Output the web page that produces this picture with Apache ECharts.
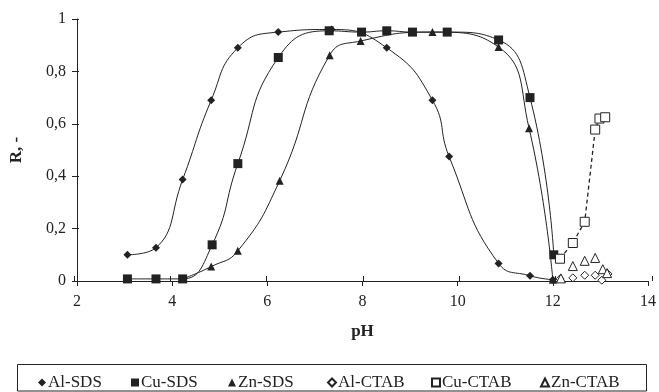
<!DOCTYPE html>
<html><head><meta charset="utf-8">
<script src="https://cdn.jsdelivr.net/npm/echarts@6/dist/echarts.min.js"></script>
<style>html,body{margin:0;padding:0;background:#fff}#c{width:659px;height:392px}</style>
</head><body><div id="c"></div>
<script>
var xTicks = [2, 4, 6, 8, 10, 12, 14];
var yTicks = [0, 0.2, 0.4, 0.6, 0.8, 1];

var alSdsPH = [3.06, 3.66, 4.22, 4.82, 5.38, 6.23, 7.35, 8.51, 9.47, 9.82, 10.86, 11.52, 12.0];
var alSdsR  = [0.10, 0.127, 0.387, 0.69, 0.89, 0.95, 0.96, 0.89, 0.69, 0.475, 0.067, 0.02, 0.005];

var cuSdsPH = [3.06, 3.66, 4.22, 4.84, 5.38, 6.23, 7.3, 7.98, 8.51, 9.05, 9.78, 10.86, 11.52, 12.02];
var cuSdsR  = [0.008, 0.008, 0.008, 0.138, 0.448, 0.853, 0.955, 0.95, 0.955, 0.95, 0.95, 0.92, 0.70, 0.10];

var znSdsPH = [4.22, 4.82, 5.38, 6.26, 7.31, 7.96, 9.47, 10.86, 11.5, 12.0];
var znSdsR  = [0.008, 0.055, 0.115, 0.383, 0.862, 0.916, 0.95, 0.893, 0.583, 0.005];

var alCtabPH = [12.15, 12.42, 12.67, 12.89, 13.03, 13.16];
var alCtabR  = [0.008, 0.012, 0.022, 0.022, 0.003, 0.027];

var cuCtabPH = [12.15, 12.42, 12.67, 12.89, 12.98, 13.1];
var cuCtabR  = [0.085, 0.145, 0.226, 0.578, 0.62, 0.625];

var znCtabPH = [12.17, 12.42, 12.67, 12.89, 13.05, 13.14];
var znCtabR  = [0.01, 0.057, 0.077, 0.088, 0.045, 0.03];

var names = ['Al-SDS', 'Cu-SDS', 'Zn-SDS', 'Al-CTAB', 'Cu-CTAB', 'Zn-CTAB'];
var icons = ['diamond', 'rect', 'triangle', 'diamond', 'rect', 'triangle'];

function pairs(xs, ys) { return xs.map(function (x, i) { return [x, ys[i]]; }); }

var FONT = 'Liberation Serif';
var BLACK = '#222';

function sdsSeries(name, xs, ys, symbol, size) {
  return {
    name: name, type: 'line', data: pairs(xs, ys), smooth: 0.5,
    symbol: symbol, symbolSize: size,
    lineStyle: { color: BLACK, width: 1 },
    itemStyle: { color: BLACK, borderColor: BLACK, borderWidth: 0 },
    z: 3
  };
}
function ctabSeries(name, xs, ys, symbol, size, dashed) {
  return {
    name: name, type: 'line', data: pairs(xs, ys), smooth: false,
    symbol: symbol, symbolSize: size,
    lineStyle: dashed ? { color: BLACK, width: 1.3, type: [4, 3] } : { opacity: 0, width: 0 },
    itemStyle: { color: '#fff', borderColor: BLACK, borderWidth: 1 },
    z: 4
  };
}

var legendLeft = [38, 131, 228, 327, 431, 540];
var legends = names.map(function (n, i) {
  return {
    left: legendLeft[i], top: 374, padding: 0,
    itemWidth: 8, itemHeight: 8, itemGap: 0,
    textStyle: { fontFamily: FONT, fontSize: 17, color: BLACK, padding: [0, 0, 0, -3] },
    data: [{ name: n, icon: icons[i] }]
  };
});

var gridBox = { left: 74, right: 7, top: 19, bottom: 111, containLabel: false };

var chart = echarts.init(document.getElementById('c'));
chart.setOption({
  animation: false,
  backgroundColor: '#fff',
  grid: [gridBox, Object.assign({}, gridBox)],
  xAxis: [{
    gridIndex: 0, type: 'value', min: xTicks[0], max: xTicks[xTicks.length - 1], interval: 2,
    name: 'pH', nameLocation: 'middle', nameGap: 42,
    nameTextStyle: { fontFamily: FONT, fontSize: 17, fontWeight: 'bold', color: BLACK },
    axisLine: { lineStyle: { color: BLACK, width: 1 } },
    axisTick: { show: true, inside: false, length: 5, lineStyle: { color: BLACK } },
    axisLabel: { fontFamily: FONT, fontSize: 16, color: BLACK, margin: 13 },
    splitLine: { show: false }
  }, {
    gridIndex: 1, type: 'value', min: xTicks[0], max: xTicks[xTicks.length - 1], interval: 2,
    axisLine: { show: false },
    axisTick: { show: true, inside: true, length: 5, lineStyle: { color: BLACK } },
    axisLabel: { show: false }, splitLine: { show: false }
  }],
  yAxis: [{
    gridIndex: 0, type: 'value', min: yTicks[0], max: yTicks[yTicks.length - 1], interval: 0.2,
    name: 'R, -', nameLocation: 'middle', nameGap: 52, nameRotate: 90,
    nameTextStyle: { fontFamily: FONT, fontSize: 17, fontWeight: 'bold', color: BLACK },
    axisLine: { show: true, lineStyle: { color: BLACK, width: 1 } },
    axisTick: { show: true, inside: false, length: 5, lineStyle: { color: BLACK } },
    axisLabel: { fontFamily: FONT, fontSize: 16, color: BLACK, margin: 11,
      formatter: function (v) { return String(+v.toFixed(1)).replace('.', ','); } },
    splitLine: { show: false }
  }, {
    gridIndex: 1, type: 'value', min: yTicks[0], max: yTicks[yTicks.length - 1], interval: 0.2,
    axisLine: { show: false },
    axisTick: { show: true, inside: true, length: 5, lineStyle: { color: BLACK } },
    axisLabel: { show: false }, splitLine: { show: false }
  }],
  legend: legends,
  graphic: [{
    type: 'rect', shape: { x: 17.5, y: 364.5, width: 629, height: 26.5 },
    style: { fill: 'none', stroke: BLACK, lineWidth: 1 }, silent: true, z: -1
  }],
  series: [
    sdsSeries(names[0], alSdsPH, alSdsR, 'diamond', 8),
    sdsSeries(names[1], cuSdsPH, cuSdsR, 'rect', 9),
    sdsSeries(names[2], znSdsPH, znSdsR, 'triangle', 8),
    ctabSeries(names[3], alCtabPH, alCtabR, 'diamond', 8, false),
    ctabSeries(names[4], cuCtabPH, cuCtabR, 'rect', 9, true),
    ctabSeries(names[5], znCtabPH, znCtabR, 'triangle', 9, false)
  ]
});
</script></body></html>
